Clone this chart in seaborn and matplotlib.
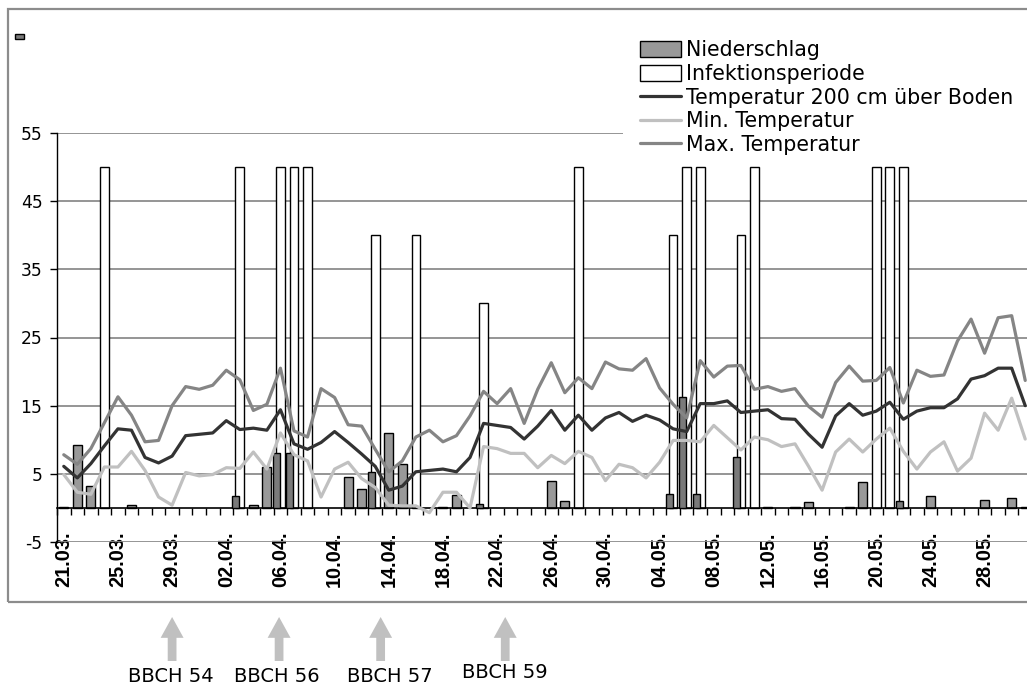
import numpy as np
import pandas as pd
import matplotlib.pyplot as plt
import matplotlib.transforms as mtransforms
from matplotlib.patches import Patch, Rectangle
from matplotlib.lines import Line2D
import seaborn as sns

'''
Daten 21.03. - 31.05.
'''

datum = pd.date_range("2009-03-21", "2009-05-31", freq="D")
tag = np.arange(len(datum))

temp_200 = [6.1, 4.4, 6.5, 9.1, 11.6, 11.4, 7.4, 6.6, 7.6, 10.6, 10.8, 11.0,
            12.8, 11.5, 11.7, 11.4, 14.4, 9.4, 8.6, 9.6, 11.2, 9.6, 7.9, 6.1,
            2.6, 3.2, 5.3, 5.5, 5.7, 5.3, 7.4, 12.4, 12.1, 11.8, 10.1, 12.0,
            14.3, 11.4, 13.6, 11.4, 13.2, 14.0, 12.7, 13.6, 12.9, 11.6, 11.2, 15.3,
            15.3, 15.7, 14.0, 14.2, 14.4, 13.1, 13.0, 10.8, 8.9, 13.5, 15.3, 13.6,
            14.2, 15.5, 13.0, 14.2, 14.7, 14.7, 16.0, 18.9, 19.4, 20.5, 20.5, 15.0]

temp_min = [4.9, 2.3, 2.0, 6.0, 6.0, 8.3, 5.5, 1.6, 0.4, 5.2, 4.7, 4.9,
            5.9, 5.8, 8.2, 5.7, 11.0, 7.8, 6.9, 1.6, 5.7, 6.7, 4.3, 3.0,
            0.4, 0.3, 0.3, -0.7, 2.3, 2.3, 0.0, 9.0, 8.7, 8.0, 8.0, 5.9,
            7.7, 6.5, 8.3, 7.4, 4.0, 6.4, 5.9, 4.4, 6.7, 9.9, 9.9, 9.7,
            12.1, 10.3, 8.5, 10.4, 10.0, 9.0, 9.4, 6.1, 2.6, 8.2, 10.1, 8.2,
            10.1, 11.7, 8.3, 5.7, 8.2, 9.7, 5.4, 7.3, 13.9, 11.4, 16.1, 10.1]

temp_max = [7.8, 6.4, 8.7, 12.5, 16.3, 13.6, 9.7, 9.9, 15.0, 17.8, 17.4, 18.0,
            20.2, 18.8, 14.3, 15.2, 20.5, 11.3, 10.4, 17.5, 16.2, 12.2, 12.0, 8.6,
            5.3, 6.9, 10.4, 11.4, 9.7, 10.6, 13.5, 17.1, 15.3, 17.5, 12.4, 17.4,
            21.3, 16.9, 19.1, 17.5, 21.4, 20.4, 20.2, 21.9, 17.6, 15.2, 13.2, 21.6,
            19.2, 20.8, 20.9, 17.4, 17.8, 17.1, 17.5, 14.9, 13.3, 18.4, 20.8, 18.6,
            18.7, 20.6, 15.4, 20.2, 19.3, 19.5, 24.5, 27.7, 22.7, 27.9, 28.2, 18.7]

niederschlag = [0.2, 9.2, 3.2, 0, 0, 0.4, 0, 0, 0, 0, 0, 0,
                0, 0, 0.4, 6.0, 0, 0, 0, 0, 0, 4.5, 2.8, 0,
                11.0, 6.5, 0, 0, 0.1, 1.9, 0, 0, 0, 0, 0, 0,
                4.0, 1.0, 0, 0, 0, 0, 0, 0, 0, 0, 0, 0,
                0, 0, 0, 0, 0.2, 0, 0.1, 0.8, 0, 0, 0.1, 3.8,
                0, 0, 0, 0, 1.8, 0, 0, 0, 1.2, 0, 1.4, 0.2]

# Niederschlag an Tagen mit Infektion (dunkle Balken)
niederschlag_inf = [0, 0, 0, 0, 0, 0, 0, 0, 0, 0, 0, 0,
                    0, 1.8, 0, 0, 8.0, 8.0, 0, 0, 0, 0, 0, 5.2,
                    0, 0, 0, 0, 0, 0, 0, 0.6, 0, 0, 0, 0,
                    0, 0, 0, 0, 0, 0, 0, 0, 0, 2.0, 16.2, 2.0,
                    0, 0, 7.5, 0, 0, 0, 0, 0, 0, 0, 0, 0,
                    0, 0, 1.0, 0, 0, 0, 0, 0, 0, 0, 0, 0]

infektion = [0, 0, 0, 50, 0, 0, 0, 0, 0, 0, 0, 0,
             0, 50, 0, 0, 50, 50, 50, 0, 0, 0, 0, 40,
             0, 0, 40, 0, 0, 0, 0, 30, 0, 0, 0, 0,
             0, 0, 50, 0, 0, 0, 0, 0, 0, 40, 50, 50,
             0, 0, 40, 50, 0, 0, 0, 0, 0, 0, 0, 0,
             50, 50, 50, 0, 0, 0, 0, 0, 0, 0, 0, 0]

bbch_labels = ["BBCH 54", "BBCH 56", "BBCH 57", "BBCH 59"]
bbch_pfeil = [8.0, 15.9, 23.4, 32.6]
bbch_text = [7.9, 15.7, 24.1, 32.6]

df = pd.DataFrame({"tag": tag, "t200": temp_200, "tmin": temp_min, "tmax": temp_max,
                   "ns": niederschlag, "ns_inf": niederschlag_inf, "inf": infektion})
df["tag_inf"] = df["tag"] - 0.3

c_ns, c_ns_inf = "#999999", "#7a7a7a"
c_t200, c_tmin, c_tmax = "#333333", "#c0c0c0", "#858585"

sns.set_theme(style="white")
plt.rcParams["font.family"] = ["DejaVu Sans"]
plt.rcParams["text.color"] = "black"
plt.rcParams["axes.unicode_minus"] = False

fig = plt.figure(figsize=(10.27, 6.88), dpi=100)
ax = fig.add_axes([57 / 1027, 1 - 542 / 688, 975 / 1027, 409 / 688])
ax.set_axisbelow(True)

'''
Balken
'''
sns.barplot(data=df[df["inf"] > 0], x="tag", y="inf", native_scale=True, width=0.64,
            color="white", edgecolor="black", linewidth=1, saturation=1,
            errorbar=None, ax=ax, zorder=2)
sns.barplot(data=df[df["ns"] > 0], x="tag", y="ns", native_scale=True, width=0.67,
            color=c_ns, edgecolor="black", linewidth=1, saturation=1,
            errorbar=None, ax=ax, zorder=2.5)
sns.barplot(data=df[df["ns_inf"] > 0], x="tag_inf", y="ns_inf", native_scale=True, width=0.52,
            color=c_ns_inf, edgecolor="black", linewidth=1, saturation=1,
            errorbar=None, ax=ax, zorder=3)

'''
Linien
'''
sns.lineplot(data=df, x="tag", y="tmin", color=c_tmin, linewidth=2.3, ax=ax, zorder=4)
sns.lineplot(data=df, x="tag", y="tmax", color=c_tmax, linewidth=2.3, ax=ax, zorder=4)
sns.lineplot(data=df, x="tag", y="t200", color=c_t200, linewidth=2.3, ax=ax, zorder=4.5)

ax.set(xlabel="", ylabel="")
ax.set_xlim(-0.5, len(tag) - 0.5)
ax.set_ylim(-5, 55)
ax.set_yticks(range(-5, 56, 10))
ax.grid(axis="y", color="#8c8c8c", linewidth=1.3)
ax.grid(axis="x", visible=False)

for s in ["top", "right"]:
    ax.spines[s].set_visible(False)
ax.spines["left"].set_color("black")
ax.spines["left"].set_linewidth(1)
ax.spines["bottom"].set_position(("data", 0))
ax.spines["bottom"].set_color("black")
ax.spines["bottom"].set_linewidth(1.2)

ax.set_xticks(tag[::4])
ax.set_xticklabels(datum[::4].strftime("%d.%m."), rotation=90, fontweight="bold",
                   family="Liberation Sans", fontsize=14.3, color="black")
ax.set_xticks(np.arange(-0.5, len(tag), 1), minor=True)
ax.tick_params(axis="x", which="major", length=0, pad=17.0)
ax.tick_params(axis="x", which="minor", bottom=True, length=5, width=1, direction="out", color="black")
ax.tick_params(axis="y", left=True, length=5, width=1, direction="out", color="black",
               labelsize=12.3, pad=5.5, labelcolor="black")

'''
Legende
'''
handles = [Patch(facecolor=c_ns, edgecolor="black", linewidth=1),
           Patch(facecolor="white", edgecolor="black", linewidth=1),
           Line2D([], [], color=c_t200, linewidth=2.3),
           Line2D([], [], color=c_tmin, linewidth=2.3),
           Line2D([], [], color=c_tmax, linewidth=2.3)]
labels = ["Niederschlag", "Infektionsperiode", "Temperatur 200 cm über Boden",
          "Min. Temperatur", "Max. Temperatur"]
leg = ax.legend(handles, labels, loc="upper left", bbox_to_anchor=(633 / 1027, 1 - 33 / 688),
                bbox_transform=fig.transFigure, fontsize=14.8, frameon=True, fancybox=False,
                facecolor="white", edgecolor="none", framealpha=1, borderpad=0.35,
                borderaxespad=0, labelspacing=0.18, handlelength=2.0, handleheight=0.8,
                handletextpad=0.25, labelcolor="black")
leg.set_zorder(10)

# weisser Legendenhintergrund ueber der 55er Gitterlinie
hinter = mtransforms.blended_transform_factory(fig.transFigure, ax.transData)
ax.add_patch(Rectangle((623 / 1027, 54), 1 - 623 / 1027, 2, transform=hinter,
                       facecolor="white", edgecolor="none", zorder=1, clip_on=False))

# kleiner Legendenrest oben links
fig.patches.append(Rectangle((15 / 1027, 1 - 39 / 688), 9 / 1027, 5 / 688, transform=fig.transFigure,
                             facecolor=c_ns_inf, edgecolor="black", linewidth=1))

# Rahmen
fig.patches.append(Rectangle((8 / 1027, 1 - 602 / 688), 1040 / 1027, 593 / 688, transform=fig.transFigure,
                             fill=False, edgecolor="#8c8c8c", linewidth=1.6))

'''
BBCH Pfeile
'''
blend = mtransforms.blended_transform_factory(ax.transData, fig.transFigure)
for x_p, x_t, lab in zip(bbch_pfeil, bbch_text, bbch_labels):
    ax.annotate("", xy=(x_p, 1 - 617 / 688), xytext=(x_p, 1 - 661 / 688),
                xycoords=blend, textcoords=blend, annotation_clip=False,
                arrowprops=dict(arrowstyle="simple,head_length=1.0,head_width=1.1,tail_width=0.42",
                                mutation_scale=15, facecolor="#c0c0c0", edgecolor="none",
                                shrinkA=0, shrinkB=0))
    y_t = 1 - (672 if lab == "BBCH 59" else 677) / 688
    ax.text(x_t, y_t, lab, transform=blend, ha="center", va="center", fontsize=14, color="black")

plt.savefig("out.png", dpi=100)
